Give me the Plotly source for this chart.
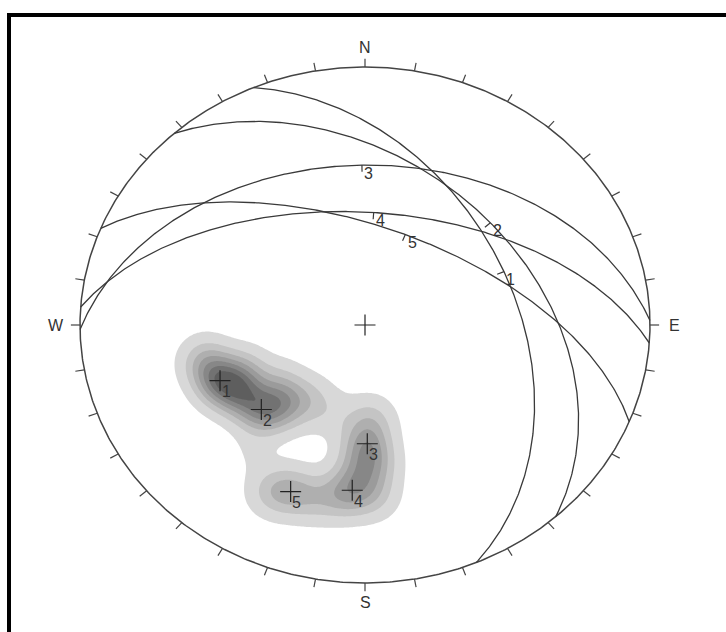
import numpy as np
import plotly.graph_objects as go

plane_labels = ["1", "2", "3", "4", "5"]
dip_directions = [67, 48, 359, 4, 22]      # degrees
dip_angles = [46, 40.5, 38, 54, 59]        # degrees

# pole-density sample points (projected net coordinates) and weights
density_x = [-0.561, -0.509, -0.439, -0.361, -0.281, -0.193, -0.421, -0.298, -0.112,
             0.018, 0.004, 0.035, -0.018, -0.046, 0.035, -0.105,
             -0.333, -0.263, -0.186, -0.393]
density_y = [-0.143, -0.217, -0.264, -0.329, -0.310, -0.291, -0.182, -0.233, -0.349,
             -0.368, -0.465, -0.543, -0.562, -0.643, -0.659, -0.667,
             -0.648, -0.643, -0.670, -0.496]
density_w = [0.5, 1.0, 0.8, 0.85, 0.55, 0.3, 0.4, 0.3, 0.15,
             0.35, 0.65, 0.35, 0.35, 0.55, 0.3, 0.28,
             0.3, 0.45, 0.3, 0.1]

cardinal_labels = ["N", "E", "S", "W"]
cardinal_az = [0, 90, 180, 270]
tick_step = 10

LINE = "#3a3a3a"
FONT = "Liberation Sans, Arial, sans-serif"


def project(trend_deg, plunge_deg):
    t = np.radians(trend_deg)
    p = np.radians(plunge_deg)
    r = np.sqrt(1 - np.sin(p))
    return r * np.sin(t), r * np.cos(t)


def great_circle(dd, dip):
    s = np.radians(dd - 90)
    d = np.radians(dip)
    ddr = np.radians(dd)
    sv = np.array([np.sin(s), np.cos(s), 0.0])
    dv = np.array([np.sin(ddr) * np.cos(d), np.cos(ddr) * np.cos(d), np.sin(d)])
    a = np.radians(np.linspace(0, 180, 361))
    v = np.outer(np.cos(a), sv) + np.outer(np.sin(a), dv)
    E, N, D = v[:, 0], v[:, 1], np.clip(v[:, 2], 0, 1)
    h = np.sqrt(E ** 2 + N ** 2)
    h[h == 0] = 1e-12
    r = np.sqrt(1 - D)
    return r * E / h, r * N / h


fig = go.Figure()

# density contours
gx = np.linspace(-1, 1, 321)
gy = np.linspace(-1, 1, 321)
X, Y = np.meshgrid(gx, gy)
sx, sy = 16.5 / 285, 16.5 / 258
Z = np.zeros_like(X)
for xi, yi, wi in zip(density_x, density_y, density_w):
    Z += wi * np.exp(-((X - xi) ** 2 / (2 * sx ** 2) + (Y - yi) ** 2 / (2 * sy ** 2)))
Z /= Z.max()

fig.add_trace(go.Contour(
    x=gx, y=gy, z=Z, zmin=0, zmax=1,
    contours=dict(start=0.06, end=0.95, size=0.13, coloring="fill", showlines=False),
    colorscale=[[0, "#ffffff"], [0.06, "#ffffff"], [0.0601, "#e4e4e4"], [1, "#5e5e5e"]],
    showscale=False, hoverinfo="skip", line=dict(width=0),
))

# primitive circle
az = np.radians(np.linspace(0, 360, 721))
fig.add_trace(go.Scatter(x=np.sin(az), y=np.cos(az), mode="lines",
                         line=dict(color="#444444", width=1.5), hoverinfo="skip", showlegend=False))

# ticks every 10 degrees
tx, ty = [], []
for a in range(0, 360, tick_step):
    ar = np.radians(a)
    tx += [np.sin(ar), 1.032 * np.sin(ar), None]
    ty += [np.cos(ar), 1.032 * np.cos(ar), None]
fig.add_trace(go.Scatter(x=tx, y=ty, mode="lines", line=dict(color="#444444", width=1.2),
                         hoverinfo="skip", showlegend=False))

# great circles
for lab, dd, dp in zip(plane_labels, dip_directions, dip_angles):
    x, y = great_circle(dd, dp)
    fig.add_trace(go.Scatter(x=x, y=y, mode="lines", line=dict(color=LINE, width=1.3),
                             hoverinfo="skip", showlegend=False))
    mx, my = project(dd, dp)
    r = np.hypot(mx, my)
    fig.add_trace(go.Scatter(x=[mx, mx - 0.026 * mx / r], y=[my, my - 0.026 * my / r], mode="lines",
                             line=dict(color=LINE, width=1.2), hoverinfo="skip", showlegend=False))
    fig.add_annotation(x=mx, y=my, text=lab, showarrow=False, xshift=7, yshift=-8,
                       font=dict(family=FONT, size=16, color="#333333"))

# poles
px, py = [], []
for lab, dd, dp in zip(plane_labels, dip_directions, dip_angles):
    x, y = project(dd + 180, 90 - dp)
    px.append(x)
    py.append(y)
    fig.add_annotation(x=x, y=y, text=lab, showarrow=False, xshift=6, yshift=-11,
                       font=dict(family=FONT, size=16, color="#333333"))
fig.add_trace(go.Scatter(x=px + [0], y=py + [0], mode="markers",
                         marker=dict(symbol="cross-thin", size=15, line=dict(color="#222222", width=1.2)),
                         hoverinfo="skip", showlegend=False))

# cardinal labels
for lab, a in zip(cardinal_labels, cardinal_az):
    ar = np.radians(a)
    d = 1.075 if a in (0, 180) else 1.085
    fig.add_annotation(x=d * np.sin(ar), y=d * np.cos(ar), text=lab, showarrow=False,
                       font=dict(family=FONT, size=16, color="#333333"))

W, H = 726, 632
cx, cy, rx, ry = 365, 325, 285, 258
fig.update_layout(
    width=W, height=H, margin=dict(l=0, r=0, t=0, b=0),
    paper_bgcolor="white", plot_bgcolor="white", showlegend=False,
    xaxis=dict(range=[-cx / rx, (W - cx) / rx], visible=False, fixedrange=True),
    yaxis=dict(range=[(cy - H) / ry, cy / ry], visible=False, fixedrange=True),
    shapes=[
        dict(type="line", xref="paper", yref="paper", x0=9 / W, x1=1.02, y0=1 - 15 / H, y1=1 - 15 / H,
             line=dict(color="black", width=4)),
        dict(type="line", xref="paper", yref="paper", x0=9 / W, x1=9 / W, y0=1 - 13 / H, y1=-0.02,
             line=dict(color="black", width=4)),
    ],
)

fig.write_html("out.html", config={"displayModeBar": False},
               post_script="document.body.style.margin='0px';")
